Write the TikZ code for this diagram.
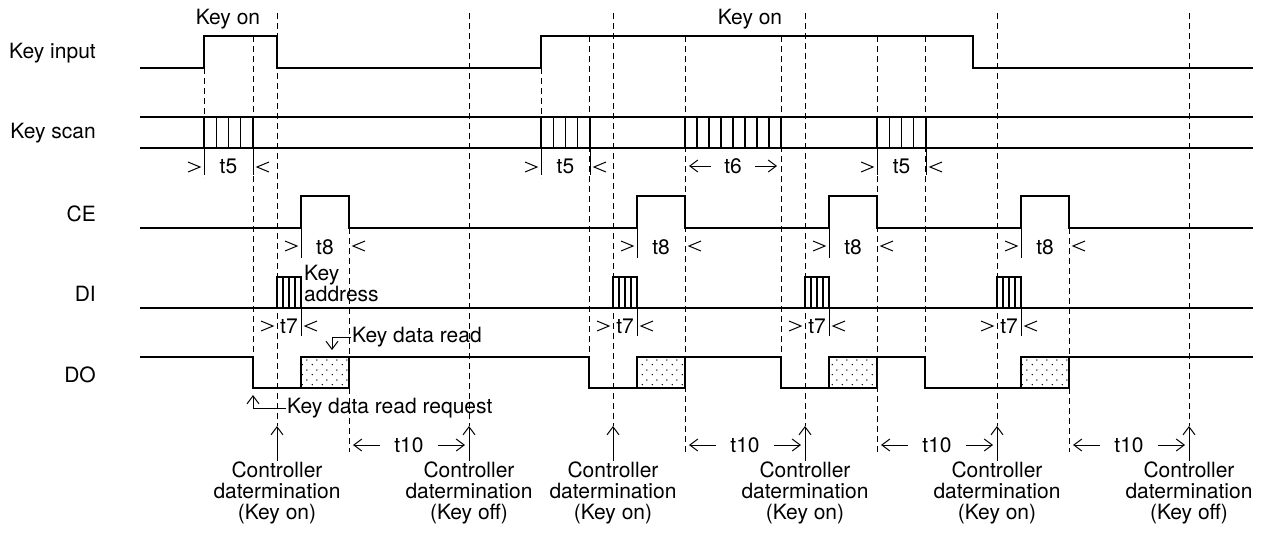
\documentclass[tikz,border=0pt]{standalone}
\usepackage{fontspec}
\setmainfont{TeX Gyre Heros}
\usetikzlibrary{arrows.meta,patterns.meta}

\tikzdeclarepattern{
  name = keydots,
  type = uncolored,
  bottom left = {(0pt,0pt)},
  top right = {(10pt,10pt)},
  tile size = {(10pt,10pt)},
  code = {
    \pgfpathcircle{\pgfqpoint{2.5pt}{2.5pt}}{0.8pt}
    \pgfpathcircle{\pgfqpoint{7.5pt}{7.5pt}}{0.8pt}
    \pgfusepath{fill}
  }
}

% chevrons pointing at a timing edge
\newcommand{\chevR}[2]{\draw[chev] ({#1-16},{#2-5}) -- ({#1-4},#2) -- ({#1-16},{#2+5});}
\newcommand{\chevL}[2]{\draw[chev] ({#1+16},{#2-5}) -- ({#1+4},#2) -- ({#1+16},{#2+5});}

\begin{document}
\begin{tikzpicture}[x = 1pt, y = -1pt,
    every node/.style = {font = \fontsize{21}{21}\selectfont, inner sep = 1pt},
    wave/.style = {line width = 1.2pt},
    guide/.style = {line width = 0.9pt, dash pattern = on 6pt off 4pt},
    chev/.style = {line width = 1pt},
    tip/.style = {line width = 1pt, -{Straight Barb[length = 8pt, width = 12pt]}}]
        \useasboundingbox (0, 0) rectangle (1269, 536);

        % ------------------------------------------------------------------------
        % Signal names
        \node[anchor = east] at (97, 53)  (keyin)   {Key input};
        \node[anchor = east] at (97, 133) (keyscan) {Key scan};
        \node[anchor = east] at (97, 214) (ce)      {CE};
        \node[anchor = east] at (97, 294) (di)      {DI};
        \node[anchor = east] at (97, 375) (do)      {DO};

        \node at (228, 19) (keyon1) {Key on};
        \node at (750, 19) (keyon2) {Key on};

        % ------------------------------------------------------------------------
        % Guides
        \foreach \x/\ya/\yb in {204/68/178, 253/36/357, 277/13/426, 349/228/452,
                                469/13/426, 541/68/178, 589/36/357, 613/13/426,
                                685/36/452, 781/36/357, 805/13/426, 877/36/452,
                                925/36/357, 997/13/426, 1069/228/452, 1189/13/426}
          \draw[guide] (\x, \ya) -- (\x, \yb);

        % ------------------------------------------------------------------------
        % Key input
        \draw[wave] (140, 68) -- (204, 68) -- (204, 36) -- (277, 36) -- (277, 68)
          -- (541, 68) -- (541, 36) -- (973, 36) -- (973, 68) -- (1253, 68);

        % Key scan
        \draw[wave] (140, 117) -- (1253, 117) (140, 148) -- (1253, 148);
        \foreach \a in {204, 541, 877} {
          \foreach \i in {0, ..., 4}
            \draw[wave] ({\a + 12.25*\i}, 117) -- ({\a + 12.25*\i}, 148);
          \draw[chev] (\a, 148) -- (\a, 175) ({\a + 49}, 148) -- ({\a + 49}, 175);
          \chevR{\a}{167}
          \chevL{\a + 49}{167}
          \node at ({\a + 24.5}, 166) (t5-\a) {t5};
        }
        \foreach \i in {0, ..., 8}
          \draw[wave] ({685 + 12*\i}, 117) -- ({685 + 12*\i}, 148);
        \node at (733, 166) (t6) {t6};
        \draw[tip] (711, 166) -- (689, 166);
        \draw[tip] (755, 166) -- (777, 166);

        % CE
        \draw[wave] (140, 228)
          \foreach \a in {301, 637, 829, 1021} {
            -- (\a, 228) -- (\a, 196) -- ({\a + 48}, 196) -- ({\a + 48}, 228)
          } -- (1253, 228);
        \foreach \a in {301, 637, 829, 1021} {
          \draw[chev] (\a, 228) -- (\a, 258);
          \chevR{\a}{246}
          \chevL{\a + 48}{246}
          \node at ({\a + 24}, 247) (t8-\a) {t8};
        }

        % DI
        \draw[wave] (140, 308) -- (1253, 308);
        \foreach \a in {277, 613, 805, 997} {
          \draw[wave] (\a, 308) -- (\a, 277) -- ({\a + 24}, 277) -- ({\a + 24}, 308);
          \foreach \i in {1, 2, 3}
            \draw[wave] ({\a + 6*\i}, 277) -- ({\a + 6*\i}, 308);
          \draw[chev] ({\a + 24}, 308) -- ({\a + 24}, 336);
          \chevR{\a}{326}
          \chevL{\a + 24}{326}
          \node at ({\a + 12}, 326) (t7-\a) {t7};
        }
        \node[anchor = west, align = left] at (303, 283) (keyaddr) {Key\\address};

        % DO
        \draw[wave] (140, 357)
          \foreach \a/\b in {253/301, 589/637, 781/829, 925/1021} {
            -- (\a, 357) -- (\a, 388) -- ({\b + 48}, 388) -- ({\b + 48}, 357)
          } -- (1253, 357);
        \foreach \b in {301, 637, 829, 1021}
          \draw[wave, pattern = keydots] (\b, 357) rectangle ({\b + 48}, 388);

        \node[anchor = west] at (351, 337) (kdread) {Key data read};
        \coordinate (kdreadtip) at (332, 350);
        \draw[tip] (kdread.west) -| (kdreadtip);

        \node[anchor = west] at (286, 408) (kdreq) {Key data read request};
        \coordinate (kdreqtip) at (253, 395);
        \draw[tip] (kdreq.west) -| (kdreqtip);

        % ------------------------------------------------------------------------
        % t10
        \foreach \a/\b in {349/469, 685/805, 877/997, 1069/1189} {
          \node at ({(\a + \b)/2}, 445) (t10-\a) {t10};
          \draw[tip] ({\a + 31}, 445) -- ({\a + 4}, 445);
          \draw[tip] ({\b - 31}, 445) -- ({\b - 4}, 445);
        }

        % Controller determination
        \foreach \x/\s [count = \i] in {277/on, 469/off, 613/on, 805/on, 997/on, 1189/off} {
          \node[align = center] at (\x, 493) (ctl\i) {Controller\\datermination\\(Key \s)};
          \coordinate (up\i) at (\x, 426);
          \draw[tip] (ctl\i.north) -- (up\i);
        }
      \end{tikzpicture}
\end{document}
